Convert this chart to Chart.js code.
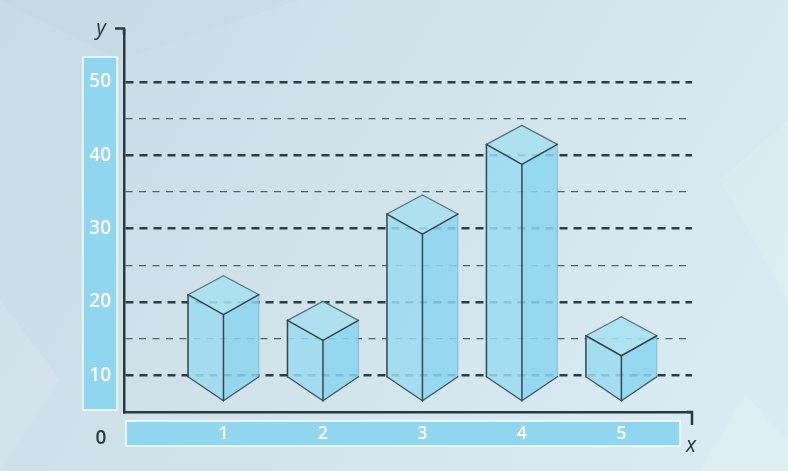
<!DOCTYPE html>
<html><head><meta charset="utf-8">
<script src="https://cdn.jsdelivr.net/npm/chart.js@4.4.1/dist/chart.umd.min.js"></script>
<style>html,body{margin:0;padding:0;background:#d0e3eb;}canvas{display:block;}</style>
</head><body>
<canvas id="c" width="788" height="471"></canvas>
<script>
// ---- data ----
const categories = [1, 2, 3, 4, 5];
const barTops = [21, 17.5, 32, 41.5, 15.4];
const barBase = [9.8, 9.8, 9.8, 9.8, 9.8];
const yTicks = [10, 15, 20, 25, 30, 35, 40, 45, 50];
const yTickLabels = ['10', '', '20', '', '30', '', '40', '', '50'];
const xTickLabels = ['1', '2', '3', '4', '5'];
const yRange = [5, 57.1];
const xRange = [0, 5.71];

const AXIS = '#2b3840';
const isMajor = v => v % 10 === 0;

function poly(ctx, pts) {
  ctx.beginPath();
  ctx.moveTo(pts[0][0], pts[0][1]);
  for (let i = 1; i < pts.length; i++) ctx.lineTo(pts[i][0], pts[i][1]);
  ctx.closePath();
}
function seg(ctx, a, b) { ctx.beginPath(); ctx.moveTo(a[0], a[1]); ctx.lineTo(b[0], b[1]); ctx.stroke(); }

function drawBox(ctx, x, yTop, yBase, w) {
  const dTop = 20, dBack = 19, dBot = 24;
  const L = [x - w, yTop], F = [x, yTop + dTop], R = [x + w, yTop], B = [x, yTop - dBack];
  const BL = [x - w, yBase], BF = [x, yBase + dBot], BR = [x + w, yBase];
  ctx.save();
  poly(ctx, [L, F, BF, BL]); ctx.fillStyle = 'rgba(155,219,240,0.85)'; ctx.fill();
  poly(ctx, [F, R, BR, BF]); ctx.fillStyle = 'rgba(137,213,239,0.85)'; ctx.fill();
  poly(ctx, [L, B, R, F]); ctx.fillStyle = 'rgba(167,224,239,0.88)'; ctx.fill();
  ctx.lineJoin = 'round'; ctx.lineCap = 'round';
  ctx.strokeStyle = 'rgba(90,112,122,0.35)'; ctx.lineWidth = 1;
  seg(ctx, R, BR);
  ctx.strokeStyle = '#5d6f77'; ctx.lineWidth = 1.2;
  seg(ctx, L, B); seg(ctx, B, R);
  ctx.strokeStyle = '#33464e'; ctx.lineWidth = 1.5;
  seg(ctx, L, F); seg(ctx, F, R);
  seg(ctx, L, BL); seg(ctx, F, BF);
  ctx.strokeStyle = '#3f535b'; ctx.lineWidth = 1.3;
  seg(ctx, BL, BF); seg(ctx, BF, BR);
  ctx.restore();
}

const deco = {
  id: 'deco',
  beforeDraw(chart) {
    const { ctx, chartArea: a, width, height } = chart;
    ctx.save();
    const g = ctx.createLinearGradient(0, 0, width, height);
    g.addColorStop(0, '#c7dbe4');
    g.addColorStop(0.5, '#d1e4ec');
    g.addColorStop(1, '#dbedf4');
    ctx.fillStyle = g; ctx.fillRect(0, 0, width, height);
    ctx.fillStyle = 'rgba(255,255,255,0.10)';
    poly(ctx, [[700, 471], [745, 395], [788, 440], [788, 471]]); ctx.fill();
    poly(ctx, [[720, 180], [788, 120], [788, 300]]); ctx.fill();
    poly(ctx, [[0, 300], [60, 380], [0, 471]]); ctx.fill();
    ctx.fillStyle = 'rgba(180,205,215,0.12)';
    poly(ctx, [[0, 0], [300, 0], [120, 60]]); ctx.fill();
    // label bands
    ctx.fillStyle = '#8fd6ee';
    ctx.strokeStyle = 'rgba(255,255,255,0.9)';
    ctx.lineWidth = 1.5;
    const yb = [a.left - 41, a.top + 27, 34, a.bottom - 2 - (a.top + 27)];
    ctx.fillRect(...yb); ctx.strokeRect(...yb);
    const xb = [a.left + 2, a.bottom + 9, a.right - 12 - (a.left + 2), 25];
    ctx.fillRect(...xb); ctx.strokeRect(...xb);
    ctx.restore();
  },
  afterDatasetsDraw(chart) {
    const { ctx, chartArea: a } = chart;
    const meta = chart.getDatasetMeta(0);
    meta.data.forEach(el => {
      drawBox(ctx, el.x, el.y, el.base, el.width / 2);
    });
    ctx.save();
    ctx.strokeStyle = AXIS; ctx.lineWidth = 2.5; ctx.lineJoin = 'miter'; ctx.lineCap = 'butt';
    ctx.beginPath();
    ctx.moveTo(a.left - 9, a.top - 1.5); ctx.lineTo(a.left, a.top - 1.5); ctx.lineTo(a.left, a.top + 5);
    ctx.stroke();
    ctx.beginPath();
    ctx.moveTo(a.right - 5, a.bottom); ctx.lineTo(a.right, a.bottom); ctx.lineTo(a.right, a.bottom + 13);
    ctx.stroke();
    ctx.fillStyle = AXIS;
    ctx.textAlign = 'center'; ctx.textBaseline = 'middle';
    ctx.font = 'italic 21px "Open Sans"';
    ctx.fillText('y', a.left - 23, a.top - 1);
    ctx.fillText('x', a.right - 1, a.bottom + 34);
    ctx.font = '600 19px "Open Sans"';
    ctx.fillText('0', a.left - 23, a.bottom + 27);
    ctx.restore();
  }
};

new Chart(document.getElementById('c'), {
  type: 'bar',
  data: {
    datasets: [{
      data: categories.map((c, i) => ({ x: c, y: [barBase[i], barTops[i]] })),
      backgroundColor: 'rgba(0,0,0,0)',
      borderWidth: 0,
      categoryPercentage: 1,
      barPercentage: 0.713
    }]
  },
  options: {
    responsive: false,
    animation: false,
    devicePixelRatio: 1,
    layout: { padding: { left: 0, right: 96, top: 30, bottom: 0 } },
    plugins: { legend: { display: false }, tooltip: { enabled: false } },
    scales: {
      x: {
        type: 'linear',
        offset: false,
        min: xRange[0], max: xRange[1],
        afterBuildTicks: s => { s.ticks = categories.map(v => ({ value: v })); },
        afterFit: s => { s.height = 59; },
        grid: { display: false, drawTicks: false },
        border: { display: true, color: AXIS, width: 2.5 },
        ticks: {
          padding: 11,
          color: '#ffffff',
          font: { family: 'Open Sans', size: 18, weight: '600' },
          callback: (v, i) => xTickLabels[i]
        }
      },
      y: {
        type: 'linear',
        min: yRange[0], max: yRange[1],
        afterBuildTicks: s => { s.ticks = yTicks.map(v => ({ value: v })); },
        afterFit: s => { s.width = 124; },
        grid: {
          drawTicks: false,
          color: c => (c.tick && isMajor(c.tick.value)) ? '#2c3c45' : '#4f6068',
          lineWidth: c => (c.tick && isMajor(c.tick.value)) ? 2.4 : 1.3
        },
        border: {
          display: true, color: AXIS, width: 2.5,
          dash: c => (c.tick && isMajor(c.tick.value)) ? [8, 6] : [7, 6.5]
        },
        ticks: {
          padding: 13,
          crossAlign: 'center',
          color: '#ffffff',
          font: { family: 'Open Sans', size: 19, weight: '600' },
          callback: (v) => yTickLabels[yTicks.indexOf(v)]
        }
      }
    }
  },
  plugins: [deco]
});
</script>
</body></html>
